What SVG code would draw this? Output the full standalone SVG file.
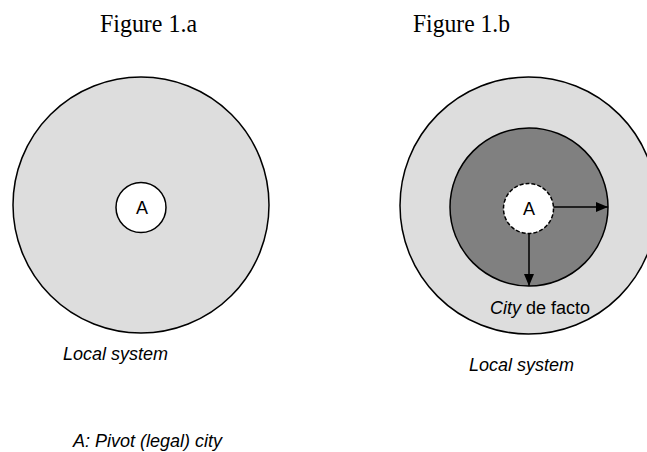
<svg xmlns="http://www.w3.org/2000/svg" width="647" height="452" viewBox="0 0 647 452">
<style>
.title{font-family:"Liberation Serif","Times New Roman",serif;font-size:26px;fill:#000}
.lbl{font-family:"Liberation Sans",Arial,sans-serif;font-size:18px;fill:#000}
.it{font-style:italic}
.ring{stroke:#000;stroke-width:1.5}
</style>
<defs>
<marker id="ah" viewBox="0 0 12 10" refX="12" refY="5" markerWidth="12" markerHeight="10" markerUnits="userSpaceOnUse" orient="auto">
<path d="M0,0 L12,5 L0,10 z" fill="#000"/>
</marker>
</defs>
<rect width="647" height="452" fill="#fff"/>
<text class="title" x="100" y="32" textLength="97" lengthAdjust="spacingAndGlyphs">Figure 1.a</text>
<text class="title" x="413" y="32" textLength="97" lengthAdjust="spacingAndGlyphs">Figure 1.b</text>
<g id="local-system-a">
<circle class="ring" cx="141" cy="205" r="128" fill="#dddddd"/>
<text class="lbl it" x="63" y="360">Local system</text>
</g>
<g id="pivot-a">
<circle class="ring" cx="141" cy="207.5" r="25" fill="#fff"/>
<text class="lbl" x="142" y="214" text-anchor="middle">A</text>
</g>
<g id="local-system-b">
<circle class="ring" cx="528.5" cy="205.5" r="128.5" fill="#dddddd"/>
<text class="lbl it" x="469" y="371">Local system</text>
</g>
<g id="city-de-facto">
<circle class="ring" cx="529" cy="207" r="79" fill="#808080"/>
<text class="lbl" x="490" y="314"><tspan class="it">City</tspan> de facto</text>
</g>
<g id="pivot-b">
<circle class="ring" cx="528.5" cy="208.5" r="25" fill="#fff" stroke-dasharray="4 2"/>
<text class="lbl" x="529" y="215" text-anchor="middle">A</text>
</g>
<g id="connectors" stroke="#000" stroke-width="1.5" fill="none">
<line x1="553.5" y1="207" x2="608" y2="207" marker-end="url(#ah)"/>
<line x1="529" y1="233.5" x2="529" y2="286" marker-end="url(#ah)"/>
</g>
<text class="lbl it" x="73" y="447">A: Pivot (legal) city</text>
</svg>
